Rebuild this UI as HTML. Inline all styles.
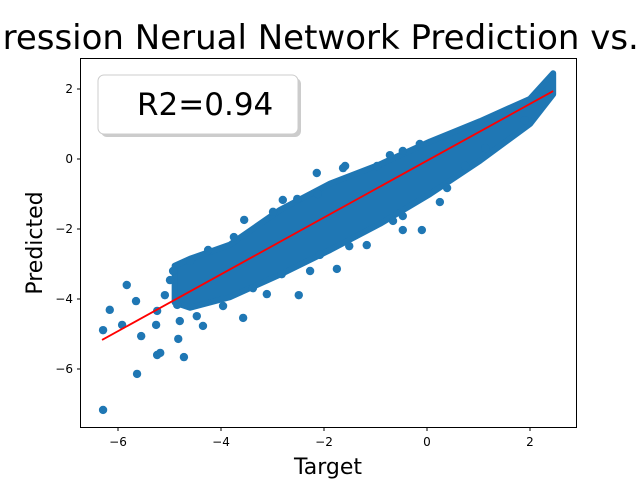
<!DOCTYPE html>
<html><head><meta charset="utf-8"><style>
body{margin:0;background:#fff;}
svg{display:block;font-family:"DejaVu Sans","Liberation Sans",sans-serif;}
</style></head><body>
<svg id="chart" width="640" height="480">
<text x="-62" y="49" font-size="34" fill="#000">Regression Nerual Network Prediction vs. Target</text>
<g id="plot"></g>
<rect x="80.5" y="58.5" width="496" height="369" fill="none" stroke="#000" stroke-width="1"/>
<g id="xt"></g><g id="yt"></g>
<text x="328" y="474" font-size="22" text-anchor="middle">Target</text>
<text transform="translate(42,243) rotate(-90)" font-size="22" text-anchor="middle">Predicted</text>
<rect x="101" y="78" width="200" height="59" rx="6" fill="#999" opacity="0.5"/>
<rect x="98" y="75" width="200" height="59" rx="6" fill="#fff" stroke="#ccc"/>
<text x="137" y="115" font-size="31">R2=0.94</text>
</svg>
<script>
const bandX=[-4.9,-4.6,-3.83,-2.85,-1.88,-0.91,0.06,1.03,2.0,2.45];
const bandLow=[-4.1,-4.25,-3.95,-3.3,-2.6,-1.85,-1.0,-0.05,1.0,1.85];
const bandHigh=[-3.05,-2.85,-2.45,-1.45,-0.7,-0.15,0.5,1.08,1.72,2.45];
const outX=[-6.29,-6.29,-6.16,-5.92,-5.83,-5.65,-5.55,-5.63,-5.24,-5.18,-4.72,-5.24,-5.26,-4.83,-4.99,-3.57,-4.35,-3.11,-2.49,-1.75,-3.55,-2.14,-1.59,-0.1,-0.47,0.25,-2.8,-1.17,
-4.25,-3.75,-2.99,-2.52,-2.12,-1.63,-0.97,-0.72,-0.47,-0.14,-3.38,-2.82,-2.27,-2.08,-1.51,-0.66,-0.47,0.39,0.74,1.13,1.9,2.23,-5.09,-4.85,-4.93,-4.6,-4.8,-4.47,-3.96];
const outY=[-7.17,-4.89,-4.31,-4.74,-3.6,-4.06,-5.06,-6.14,-5.6,-5.54,-5.66,-4.34,-4.74,-5.14,-3.46,-4.54,-4.77,-3.86,-3.89,-3.14,-1.74,-0.4,-0.2,-2.03,-2.03,-1.23,-1.17,-2.46,
-2.6,-2.23,-1.51,-1.14,-1.0,-0.26,-0.2,0.11,0.23,0.43,-3.69,-3.29,-3.2,-2.74,-2.49,-1.77,-1.63,-0.83,-0.2,0.31,1.11,1.6,-3.89,-4.17,-3.2,-2.91,-4.63,-4.49,-4.2];
const fitX=[-6.31,2.45];
const fitY=[-5.17,1.94];
const xTicks=[-6,-4,-2,0,2];
const yTicks=[2,0,-2,-4,-6];
const sx=v=>427+v*51.5, sy=v=>159-v*35;
const NS='http://www.w3.org/2000/svg';
const plot=document.getElementById('plot');
function mk(t,a,p){const e=document.createElementNS(NS,t);for(const k in a)e.setAttribute(k,a[k]);(p||plot).appendChild(e);return e;}
let pts=bandX.map((x,i)=>sx(x)+','+sy(bandHigh[i]));
for(let i=bandX.length-1;i>=0;i--)pts.push(sx(bandX[i])+','+sy(bandLow[i]));
const band=mk('polygon',{points:pts.join(' '),fill:'#1f77b4',stroke:'#1f77b4','stroke-width':6,'stroke-linejoin':'round'});


outX.forEach((x,i)=>{const c=mk('circle',{cx:sx(x),cy:sy(outY[i]),r:4.2,fill:'#1f77b4'});

});
const ln=mk('line',{x1:sx(fitX[0]),y1:sy(fitY[0]),x2:sx(fitX[1]),y2:sy(fitY[1]),stroke:'red','stroke-width':1.8});


const xt=document.getElementById('xt'),yt=document.getElementById('yt');
xTicks.forEach(v=>{const x=sx(v);mk('line',{x1:x,x2:x,y1:427.5,y2:431,stroke:'#000'},xt);
const t=mk('text',{x:x,y:446,'font-size':12,'text-anchor':'middle'},xt);t.textContent=v<0?'\u2212'+(-v):v;

});
yTicks.forEach(v=>{const y=sy(v);mk('line',{x1:77,x2:80.5,y1:y,y2:y,stroke:'#000'},yt);
const t=mk('text',{x:73,y:y+4,'font-size':12,'text-anchor':'end'},yt);t.textContent=v<0?'\u2212'+(-v):v;

});
</script>
</body></html>
